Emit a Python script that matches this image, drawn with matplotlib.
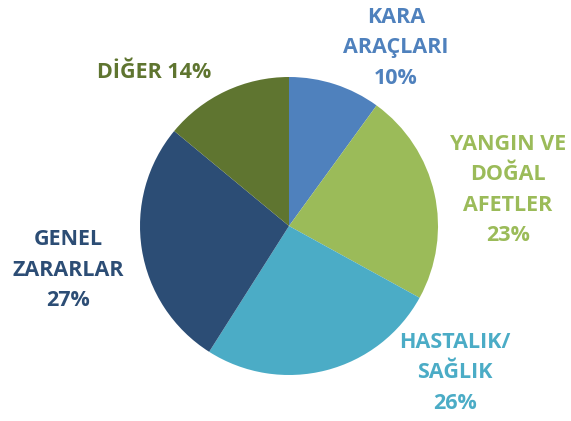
import matplotlib
matplotlib.use("Agg")
import matplotlib.pyplot as plt

categories = ["KARA\nARAÇLARI", "YANGIN VE\nDOĞAL\nAFETLER", "HASTALIK/\nSAĞLIK", "GENEL\nZARARLAR", "DİĞER"]
values = [10, 23, 26, 27, 14]
colors = ["#4F81BD", "#9BBB59", "#4BACC6", "#2C4D75", "#5F7530"]
label_pos = [(396, 48), (508, 190), (455, 373), (68, 270), (154, 73)]

W, H = 571, 421
fig = plt.figure(figsize=(W / 100, H / 100), dpi=100)
ax = fig.add_axes([0, 0, 1, 1])
ax.set_xlim(0, W)
ax.set_ylim(0, H)
ax.set_aspect("equal")
ax.axis("off")

ax.pie(values, colors=colors, startangle=90, counterclock=False,
       center=(289, H - 226), radius=149,
       wedgeprops=dict(linewidth=0))
ax.set_xlim(0, W)
ax.set_ylim(0, H)

for cat, v, c, (x, y) in zip(categories, values, colors, label_pos):
    if "\n" in cat:
        txt = f"{cat}\n{v}%"
    else:
        txt = f"{cat} {v}%"
    ax.text(x, H - y, txt, ha="center", va="center", color=c,
            fontsize=15.5, fontweight="bold", family=["Open Sans", "DejaVu Sans"],
            linespacing=1.6)

fig.savefig("out.png", dpi=100)
